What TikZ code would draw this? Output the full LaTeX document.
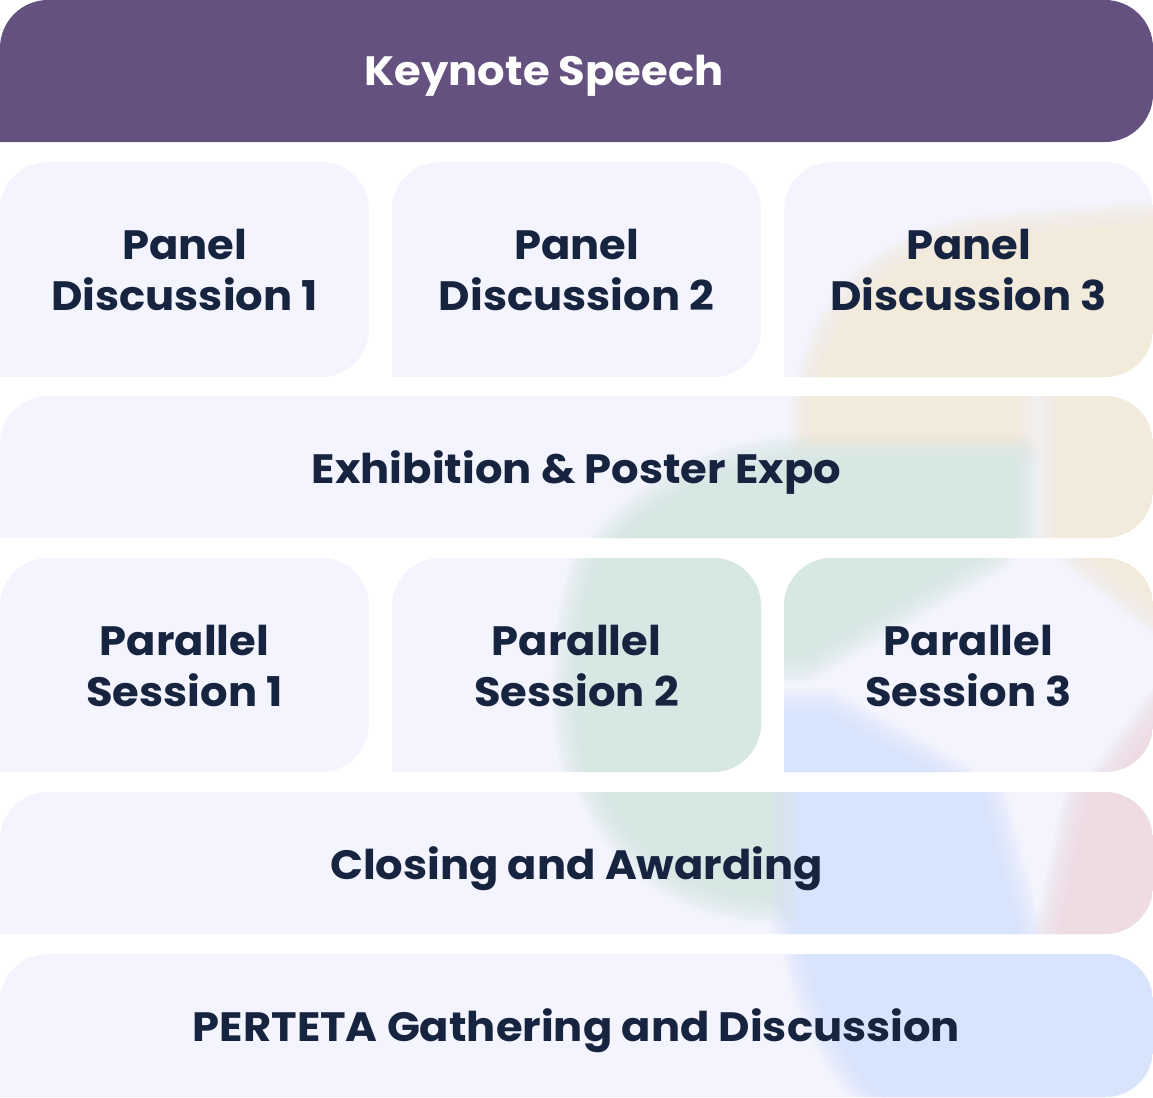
\documentclass[tikz,border=0pt]{standalone}
\usepackage{fontspec}
\setmainfont{Poppins}[FakeStretch=1.055]
\definecolor{purp}{HTML}{64517F}
\definecolor{base}{HTML}{F3F4FD}
\definecolor{ink}{HTML}{172440}
\definecolor{beige}{HTML}{F2EADA}
\definecolor{mint}{HTML}{D7E7E4}
\definecolor{sky}{HTML}{D8E3FC}
\definecolor{rose}{HTML}{EEDBE3}
\newcommand\rbox[4]{(#1,#4) -- (#1,{#2+48}) arc[start angle=180,end angle=270,radius=48] -- ({#3-48},#2) arc[start angle=270,end angle=360,radius=48] -- (#3,{#4-48}) arc[start angle=0,end angle=90,radius=48] -- cycle}
\newcommand\soft[2]{%
  \foreach \w in {48,44,40,36,32,28,24,20,16,12,8,4}{\draw[#1,line width=\w pt,opacity=0.11,line join=round] #2;}
  \fill[#1] #2;}
\tikzset{
  lbl/.style={font=\fontsize{41}{51}\selectfont\bfseries, text=ink, inner sep=0pt, align=center, anchor=base},
}
\begin{document}
\begin{tikzpicture}[x=1pt,y=-1pt]
\useasboundingbox (0,0) rectangle (1153,1097);
% keynote
\fill[purp] \rbox{0}{0}{1153}{142};
% plain boxes
\fill[base] \rbox{0}{162}{369}{377};
\fill[base] \rbox{392}{162}{761}{377};
\fill[base] \rbox{0}{558}{369}{772};
% panel 3
\begin{scope}
\clip \rbox{784}{162}{1153}{377};
\fill[base] (780,150) rectangle (1160,390);
\soft{beige}{(818,392) .. controls (832,300) and (900,245) .. (1000,236) -- (1170,222) -- (1170,392) -- cycle}
\end{scope}
% exhibition
\begin{scope}
\clip \rbox{0}{396}{1153}{538};
\fill[base] (-5,390) rectangle (1160,545);
\soft{beige}{(812,385) -- (1018,385) -- (1018,444) -- (812,444) -- cycle}
\soft{beige}{(1058,385) -- (1170,385) -- (1170,550) -- (1058,550) -- cycle}
\soft{mint}{(610,550) .. controls (655,495) and (725,462) .. (805,458) -- (1016,458) -- (1016,550) -- cycle}
\end{scope}
% parallel 2
\begin{scope}
\clip \rbox{392}{558}{761}{772};
\fill[base] (385,550) rectangle (770,780);
\soft{mint}{(600,550) .. controls (572,620) and (568,720) .. (590,785) -- (780,785) -- (780,550) -- cycle}
\end{scope}
% parallel 3
\begin{scope}
\clip \rbox{784}{558}{1153}{772};
\fill[base] (780,550) rectangle (1160,780);
\soft{mint}{(775,550) -- (990,550) -- (805,658) -- (775,658) -- cycle}
\soft{sky}{(775,712) -- (825,712) -- (955,785) -- (775,785) -- cycle}
\soft{beige}{(1082,550) -- (1165,550) -- (1165,615) -- cycle}
\soft{rose}{(1165,710) -- (1165,785) -- (1110,785) -- cycle}
\end{scope}
% closing
\begin{scope}
\clip \rbox{0}{792}{1153}{934};
\fill[base] (-5,785) rectangle (1160,940);
\soft{mint}{(600,785) .. controls (630,860) and (700,902) .. (785,900) -- (790,785) -- cycle}
\soft{sky}{(795,785) -- (980,785) -- (1022,945) -- (795,945) -- cycle}
\soft{rose}{(1090,785) -- (1165,785) -- (1165,945) -- (1055,945) -- cycle}
\end{scope}
% perteta
\begin{scope}
\clip \rbox{0}{954}{1153}{1097};
\fill[base] (-5,948) rectangle (1160,1105);
\soft{sky}{(805,948) .. controls (815,1000) and (840,1060) .. (890,1105) -- (1165,1105) -- (1165,948) -- cycle}
\end{scope}
% labels
\node[lbl, text=white] (key) at (544,86) {Keynote Speech};
\node[lbl] (pd1) at (184.5,310) {Panel\\Discussion 1};
\node[lbl] (pd2) at (576.5,310) {Panel\\Discussion 2};
\node[lbl] (pd3) at (968.5,310) {Panel\\Discussion 3};
\node[lbl] (exh) at (576.5,483) {Exhibition \& Poster Expo};
\node[lbl] (ps1) at (184.5,706) {Parallel\\Session 1};
\node[lbl] (ps2) at (576.5,706) {Parallel\\Session 2};
\node[lbl] (ps3) at (968.5,706) {Parallel\\Session 3};
\node[lbl] (clo) at (576.5,879) {Closing and Awarding};
\node[lbl] (per) at (576.5,1041) {PERTETA Gathering and Discussion};
\end{tikzpicture}
\end{document}
